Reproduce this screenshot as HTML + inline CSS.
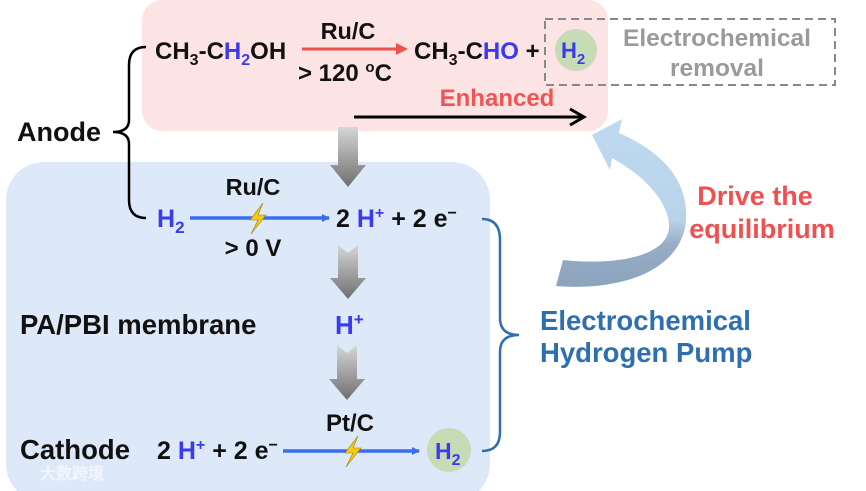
<!DOCTYPE html>
<html><head><meta charset="utf-8"><style>
html,body{margin:0;padding:0;background:#fff}
svg{display:block}
text{font-family:"Liberation Sans",Arial,sans-serif;font-weight:bold}
</style></head><body>
<svg width="866" height="491" viewBox="0 0 866 491" xmlns="http://www.w3.org/2000/svg">
<defs>
<linearGradient id="ga" x1="0" y1="0" x2="0" y2="1"><stop offset="0" stop-color="#d6d6d6"/><stop offset="1" stop-color="#6f6f6f"/></linearGradient>
<linearGradient id="gc" x1="0" y1="0" x2="0" y2="1"><stop offset="0" stop-color="#bfd9f0"/><stop offset="0.6" stop-color="#b9d3ea"/><stop offset="0.75" stop-color="#97adc6"/><stop offset="1" stop-color="#8ca3bd"/></linearGradient>
<marker id="mb" markerWidth="8" markerHeight="8" refX="7" refY="4" orient="auto" markerUnits="userSpaceOnUse"><path d="M0,0 L8,4 L0,8z" fill="#3a6ef0"/></marker>
</defs>
<rect x="142" y="0" width="466" height="131" rx="20" fill="#fde4e4"/>
<rect x="6" y="162" width="484" height="340" rx="38" fill="#dde9f9"/>
<rect x="545" y="19" width="290" height="66" fill="none" stroke="#888" stroke-width="2" stroke-dasharray="8,5"/>
<text x="155" y="59" font-size="24" fill="#111">CH<tspan font-size="16" dy="6">3</tspan><tspan dy="-6">-C</tspan><tspan fill="#3a3af0">H<tspan font-size="16" dy="6">2</tspan></tspan><tspan dy="-6">OH</tspan></text>
<line x1="302" y1="49" x2="398" y2="49" stroke="#f05050" stroke-width="3"/>
<path d="M396,43 L408,49 L396,55z" fill="#f05050"/>
<text x="348" y="39" font-size="23.5" fill="#111" text-anchor="middle">Ru/C</text>
<text x="298" y="81" font-size="24" fill="#111">&gt; 120 <tspan font-size="15" dy="-9">o</tspan><tspan dy="9">C</tspan></text>
<text x="414" y="59" font-size="24" fill="#111">CH<tspan font-size="16" dy="6">3</tspan><tspan dy="-6">-C</tspan><tspan fill="#3a3af0">HO</tspan> +</text>
<circle cx="576" cy="50" r="21" fill="#c8dbb7"/>
<text x="561" y="58" font-size="22" fill="#3a3af0">H<tspan font-size="15" dy="6">2</tspan></text>
<text x="717" y="46" font-size="24.5" fill="#9a9a9a" text-anchor="middle">Electrochemical</text>
<text x="717" y="76" font-size="24.5" fill="#9a9a9a" text-anchor="middle">removal</text>
<text x="497" y="106" font-size="24" fill="#f05555" text-anchor="middle">Enhanced</text>
<line x1="354" y1="117" x2="582" y2="117" stroke="#000" stroke-width="3"/>
<path d="M570,109 L584,117 L570,125" fill="none" stroke="#000" stroke-width="3"/>
<path d="M146,47 Q129,47 129,65 L129,120 Q129,132 113,132 Q129,132 129,144 L129,200 Q129,218 146,218" fill="none" stroke="#000" stroke-width="2.5"/>
<text x="17" y="141" font-size="27" fill="#111">Anode</text>
<path d="M338,127 L358,127 L358,165 L366,165 L348,187 L330,165 L338,165z" fill="url(#ga)"/>
<path d="M338,245 L348,253 L358,245 L358,278 L366,278 L348,299 L330,278 L338,278z" fill="url(#ga)"/>
<path d="M337,345 L347,353 L357,345 L357,379 L365,379 L347,400 L329,379 L337,379z" fill="url(#ga)"/>
<text x="157" y="227" font-size="25" fill="#3a3af0">H<tspan font-size="17" dy="6">2</tspan></text>
<line x1="190" y1="218" x2="329" y2="218" stroke="#3a6ef0" stroke-width="3.5" marker-end="url(#mb)"/>
<path d="M263,203 L250,220 L258,220 L251,234 L266,215 L258,215z" fill="#f7c815" stroke="#9a8000" stroke-width="0.6"/>
<text x="253" y="195" font-size="23.5" fill="#111" text-anchor="middle">Ru/C</text>
<text x="253" y="256" font-size="24" fill="#111" text-anchor="middle">&gt; 0 V</text>
<text x="336" y="227" font-size="25" fill="#111">2 <tspan fill="#3a3af0">H</tspan><tspan fill="#3a3af0" font-size="16" dy="-9">+</tspan><tspan dy="9"> + 2 e</tspan><tspan font-size="16" dy="-9">−</tspan></text>
<text x="20" y="334" font-size="27.5" fill="#111">PA/PBI membrane</text>
<text x="335" y="334" font-size="26" fill="#3a3af0">H<tspan font-size="17" dy="-9">+</tspan></text>
<text x="20" y="459" font-size="27.5" fill="#111">Cathode</text>
<text x="157" y="459" font-size="25" fill="#111">2 <tspan fill="#3a3af0">H</tspan><tspan fill="#3a3af0" font-size="16" dy="-9">+</tspan><tspan dy="9"> + 2 e</tspan><tspan font-size="16" dy="-9">−</tspan></text>
<line x1="283" y1="451" x2="419" y2="451" stroke="#3a6ef0" stroke-width="3.5" marker-end="url(#mb)"/>
<path d="M358,436 L345,453 L353,453 L346,467 L361,448 L353,448z" fill="#f7c815" stroke="#9a8000" stroke-width="0.6"/>
<text x="350" y="431" font-size="24" fill="#111" text-anchor="middle">Pt/C</text>
<circle cx="449" cy="450" r="22" fill="#c8dbb7"/>
<text x="435" y="459" font-size="23" fill="#3a3af0">H<tspan font-size="16" dy="6">2</tspan></text>
<path d="M482,219 Q500,219 500,240 L500,318 Q500,335 519,335 Q500,335 500,352 L500,432 Q500,451 482,451" fill="none" stroke="#2e6fb0" stroke-width="2.5"/>
<text x="540" y="330" font-size="27.5" fill="#2e6fb0">Electrochemical</text>
<text x="540" y="362" font-size="27.5" fill="#2e6fb0">Hydrogen Pump</text>
<path d="M556,286 C630,292 690,265 686,210 C684,178 662,152 619,133 L622,119 L592,135 L610,170 L612,158 C648,178 670,205 669,228 C667,255 620,266 563,260z" fill="url(#gc)"/>
<text x="755" y="205" font-size="27" fill="#f05050" text-anchor="middle">Drive the</text>
<text x="762" y="238" font-size="27" fill="#f05050" text-anchor="middle">equilibrium</text>
<text x="40" y="479" font-size="16" fill="#ffffff" opacity="0.6" font-family="'Liberation Sans','Noto Sans CJK SC',sans-serif">大数跨境</text>
</svg>
</body></html>
